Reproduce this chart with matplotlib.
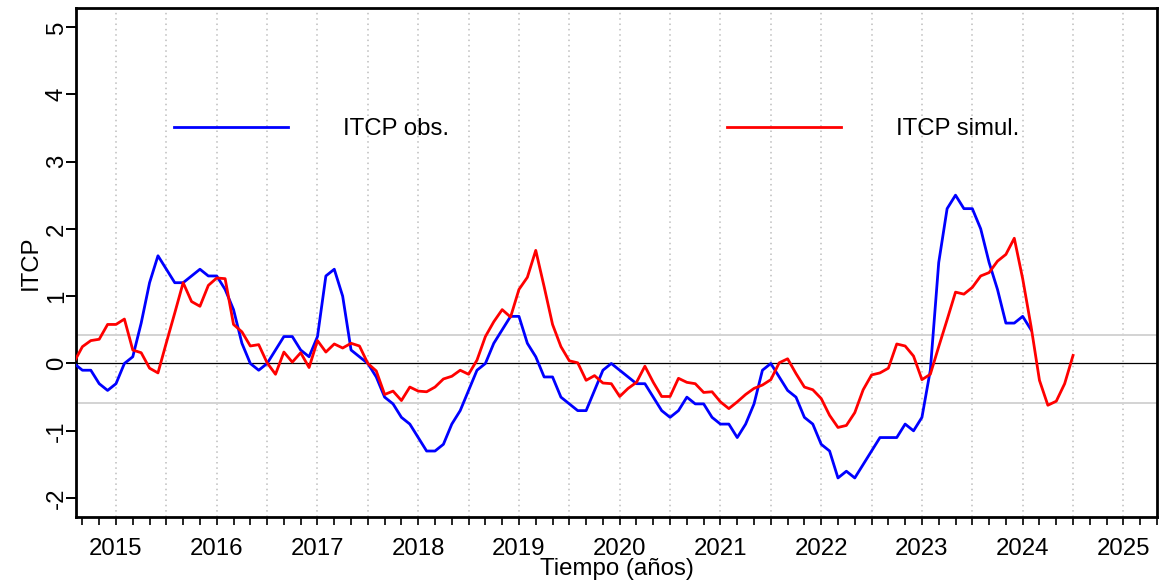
import numpy as np
import matplotlib
matplotlib.use("Agg")
import matplotlib.pyplot as plt

# Monthly series, first value Aug 2014
start_year = 2014 + 7 / 12

itcp_obs = [
    0.0, -0.1, -0.1, -0.3, -0.4, -0.3, 0.0, 0.1, 0.6, 1.2,
    1.6, 1.4, 1.2, 1.2, 1.3, 1.4, 1.3, 1.3, 1.1, 0.8,
    0.3, 0.0, -0.1, 0.0, 0.2, 0.4, 0.4, 0.2, 0.1, 0.4,
    1.3, 1.4, 1.0, 0.2, 0.1, 0.0, -0.2, -0.5, -0.6, -0.8,
    -0.9, -1.1, -1.3, -1.3, -1.2, -0.9, -0.7, -0.4, -0.1, 0.0,
    0.3, 0.5, 0.7, 0.7, 0.3, 0.1, -0.2, -0.2, -0.5, -0.6,
    -0.7, -0.7, -0.4, -0.1, 0.0, -0.1, -0.2, -0.3, -0.3, -0.5,
    -0.7, -0.8, -0.7, -0.5, -0.6, -0.6, -0.8, -0.9, -0.9, -1.1,
    -0.9, -0.6, -0.1, 0.0, -0.2, -0.4, -0.5, -0.8, -0.9, -1.2,
    -1.3, -1.7, -1.6, -1.7, -1.5, -1.3, -1.1, -1.1, -1.1, -0.9,
    -1.0, -0.8, -0.1, 1.5, 2.3, 2.5, 2.3, 2.3, 2.0, 1.5,
    1.1, 0.6, 0.6, 0.7, 0.5,
]

itcp_sim = [
    0.02, 0.25, 0.34, 0.36, 0.58, 0.58, 0.66, 0.20, 0.16, -0.07,
    -0.14, 0.31, 0.75, 1.20, 0.92, 0.85, 1.16, 1.27, 1.26, 0.58,
    0.47, 0.26, 0.28, 0.01, -0.16, 0.17, 0.02, 0.16, -0.06, 0.34,
    0.17, 0.29, 0.23, 0.30, 0.26, 0.0, -0.11, -0.46, -0.41, -0.55,
    -0.35, -0.41, -0.42, -0.35, -0.23, -0.19, -0.10, -0.16, 0.05, 0.40,
    0.62, 0.80, 0.69, 1.10, 1.28, 1.68, 1.14, 0.58, 0.25, 0.04,
    0.01, -0.25, -0.18, -0.29, -0.30, -0.49, -0.37, -0.28, -0.04, -0.28,
    -0.49, -0.49, -0.22, -0.28, -0.30, -0.43, -0.42, -0.57, -0.67, -0.57,
    -0.46, -0.37, -0.32, -0.24, 0.01, 0.07, -0.15, -0.35, -0.39, -0.52,
    -0.77, -0.95, -0.92, -0.73, -0.39, -0.17, -0.14, -0.07, 0.29, 0.26,
    0.11, -0.24, -0.16, 0.25, 0.65, 1.06, 1.03, 1.13, 1.30, 1.35,
    1.52, 1.62, 1.86, 1.26, 0.55, -0.25, -0.62, -0.56, -0.30, 0.12,
]

band_hi = 0.42
band_lo = -0.59
year_labels = list(range(2015, 2026))
y_ticks = list(range(-2, 6))

t_obs = start_year + np.arange(len(itcp_obs)) / 12
t_sim = start_year + np.arange(len(itcp_sim)) / 12

plt.rcParams['font.family'] = ['Liberation Sans', 'DejaVu Sans']
fs = 17.3

fig = plt.figure(figsize=(11.59, 5.80), dpi=100)
ax = fig.add_axes([76 / 1159, 1 - 517 / 580, (1157 - 76) / 1159, (517 - 8) / 580])

# half-year dotted grid
for g in np.arange(2015, 2025.01, 0.5):
    ax.axvline(g, color='#bdbdbd', lw=1.1, ls=(0, (1, 2.5)), zorder=0)

ax.axhline(band_hi, color='#d3d3d3', lw=1.4, zorder=1)
ax.axhline(band_lo, color='#d3d3d3', lw=1.4, zorder=1)
ax.axhline(0, color='black', lw=0.9, zorder=1)

ax.plot(t_obs, itcp_obs, color='#0000ff', lw=2.0, label='ITCP obs.', zorder=3)
ax.plot(t_sim, itcp_sim, color='#ff0000', lw=2.0, label='ITCP simul.', zorder=3)

ax.set_xlim(2014.603, 2025.327)
ax.set_ylim(-2.28, 5.28)

ax.set_xticks(year_labels)
ax.set_xticklabels([str(y) for y in year_labels], fontsize=fs)
ax.set_xticks(np.arange(2014 + 4 / 6, 2025.34, 1 / 6), minor=True)
ax.tick_params(axis='x', which='both', direction='out', length=6, width=1.2, pad=9)

ax.set_yticks(y_ticks)
ax.set_yticklabels([str(v) for v in y_ticks], fontsize=fs, rotation=90, va='center')
ax.tick_params(axis='y', direction='out', length=7, width=1.4, pad=-1)

for s in ax.spines.values():
    s.set_linewidth(2.0)

ax.set_xlabel('Tiempo (años)', fontsize=fs, labelpad=-1)
ax.set_ylabel('ITCP', fontsize=fs, labelpad=3)

ax.legend(loc='center left', bbox_to_anchor=(0.0907, 0.762), ncol=2, frameon=False,
          fontsize=fs, handlelength=4.75, handletextpad=2.3, columnspacing=11.55,
          borderpad=0, borderaxespad=0)

fig.savefig('out.png', dpi=100)
